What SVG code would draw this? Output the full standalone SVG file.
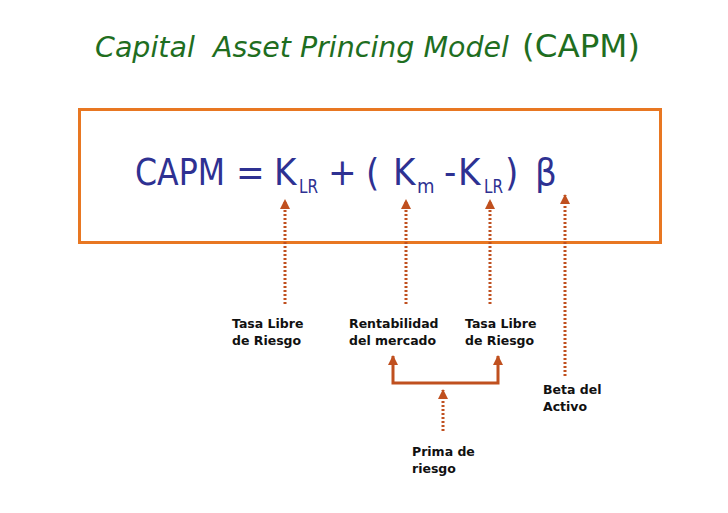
<svg xmlns="http://www.w3.org/2000/svg" width="728" height="513" viewBox="0 0 728 513">
<defs>
<style>
.title{font-family:"DejaVu Sans",Verdana,sans-serif;fill:#1f6e1f}
.f{font-family:"DejaVu Sans Condensed","DejaVu Sans",sans-serif;fill:#2e3192;font-size:38px}
.sub{font-size:20px}
.lbl{font-family:"DejaVu Sans",Verdana,sans-serif;font-weight:bold;font-size:12.5px;fill:#111}
.dot{stroke:#c0501f;stroke-width:3;stroke-dasharray:2 2;fill:none}
.sol{stroke:#c0501f;stroke-width:3;fill:none}
</style>
<marker id="ah" markerWidth="10" markerHeight="10" refX="9" refY="5" orient="auto-start-reverse" markerUnits="userSpaceOnUse" viewBox="0 0 10 10">
<path d="M0,0 L10,5 L0,10 Z" fill="#c0501f"/>
</marker>
</defs>
<rect width="728" height="513" fill="#fff"/>
<g id="title">
<text x="95" y="57" class="title" font-style="italic" font-size="28" textLength="414" lengthAdjust="spacingAndGlyphs" xml:space="preserve">Capital  Asset Princing Model</text>
<text x="522" y="57" class="title" font-size="32" textLength="118" lengthAdjust="spacingAndGlyphs">(CAPM)</text>
</g>
<g id="box">
<rect x="79.5" y="109.5" width="581" height="133" fill="none" stroke="#e87722" stroke-width="3"/>
<text class="f" y="185"><tspan x="135" textLength="90" lengthAdjust="spacingAndGlyphs">CAPM</tspan><tspan x="236">=</tspan><tspan x="274">K</tspan><tspan x="299" y="193" class="sub" textLength="19" lengthAdjust="spacingAndGlyphs">LR</tspan><tspan x="328" y="185">+</tspan><tspan x="366">(</tspan><tspan x="393">K</tspan><tspan x="417" y="193" class="sub">m</tspan><tspan x="444" y="185">-</tspan><tspan x="458">K</tspan><tspan x="484" y="193" class="sub" textLength="19" lengthAdjust="spacingAndGlyphs">LR</tspan><tspan x="505" y="185">)</tspan><tspan x="535">β</tspan></text>
</g>
<g id="connectors">
<line x1="285" y1="304" x2="285" y2="200" class="dot" marker-end="url(#ah)"/>
<line x1="406" y1="304" x2="406" y2="200" class="dot" marker-end="url(#ah)"/>
<line x1="490" y1="304" x2="490" y2="200" class="dot" marker-end="url(#ah)"/>
<line x1="565" y1="376" x2="565" y2="195" class="dot" marker-end="url(#ah)"/>
<path d="M393,356 V383 H498 V356" class="sol" marker-start="url(#ah)" marker-end="url(#ah)"/>
<line x1="443" y1="431" x2="443" y2="390" class="dot" marker-end="url(#ah)"/>
</g>
<g id="n1"><text class="lbl" x="232" y="328">Tasa Libre</text><text class="lbl" x="232" y="345">de Riesgo</text></g>
<g id="n2"><text class="lbl" x="349" y="328">Rentabilidad</text><text class="lbl" x="349" y="345">del mercado</text></g>
<g id="n3"><text class="lbl" x="465" y="328">Tasa Libre</text><text class="lbl" x="465" y="345">de Riesgo</text></g>
<g id="n4"><text class="lbl" x="543" y="394">Beta del</text><text class="lbl" x="543" y="411">Activo</text></g>
<g id="n5"><text class="lbl" x="412" y="456">Prima de</text><text class="lbl" x="412" y="473">riesgo</text></g>
</svg>
